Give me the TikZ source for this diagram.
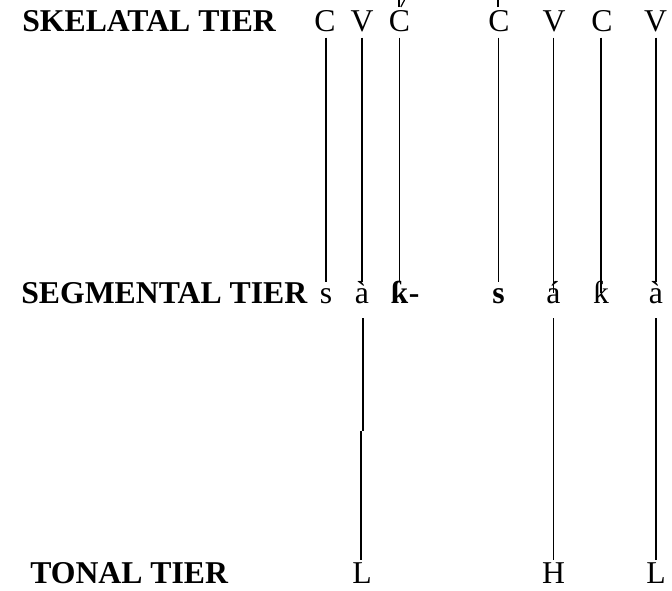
\documentclass[tikz,border=0pt]{standalone}
\usepackage{fontspec}
\setmainfont{Liberation Serif}
\begin{document}
\begin{tikzpicture}[x=0.75pt,y=-0.75pt,
  tier/.style={font=\fontsize{23.8}{28}\selectfont\bfseries, anchor=base west, inner sep=0pt},
  skel/.style={font=\fontsize{23.8}{28}\selectfont, anchor=base, inner sep=0pt,
               text height=18.4pt, text depth=4.1pt},
  seg/.style={font=\fontsize{23.8}{28}\selectfont, anchor=base, inner sep=0pt,
              text height=16.2pt, text depth=10.5pt},
  segbold/.style={seg, font=\fontsize{23.8}{28}\selectfont\bfseries},
  tone/.style={font=\fontsize{23.8}{28}\selectfont, anchor=base, inner sep=0pt,
               text height=18pt, text depth=0pt},
  link/.style={line width=1.4pt}]
\useasboundingbox (0,0) rectangle (672,591);

% tier labels
\node[tier] (lsk) at (22,32) {SKELATAL TIER};
\node[tier] (lsg) at (21,304) {SEGMENTAL TIER};
\node[tier] (lto) at (30,584) {TONAL TIER};

% skeletal tier
\node[skel] (k1) at (325,32) {C};
\node[skel] (k2) at (362,32) {V};
\node[skel] (k3) at (399.5,32) {C};
\node[skel] (k4) at (499,32) {C};
\node[skel] (k5) at (554,32) {V};
\node[skel] (k6) at (602,32) {C};
\node[skel] (k7) at (655.5,32) {V};

% segmental tier
\node[seg] (g1) at (326,304) {s};
\node[seg] (g2) at (362,304) {à};
\node[segbold] (g3) at (399.5,304) {ƙ};
\node[segbold,anchor=base west] (g3h) at (g3.base east) {-};
\node[segbold] (g4) at (498.5,304) {s};
\node[seg] (g5) at (553.5,304) {á};
\node[seg] (g6) at (601,304) {ƙ};
\node[seg] (g7) at (656,304) {à};

% tonal tier
\node[tone] (t1) at (362,584) {L};
\node[tone] (t2) at (553.5,584) {H};
\node[tone] (t3) at (656,584) {L};

% skeleton to segments
\draw[link] (k1.south -| g1) -- (g1.north);
\draw[link] (k2.south) -- (g2.north);
\draw[link] (k3.south) -- (g3.north);
\draw[link] (k4.south -| g4) -- (g4.north);
\draw[link,shorten >=-8.25pt] (k5.south -| g5) -- (g5.north);
\draw[link,shorten >=-8.25pt] (k6.south -| g6) -- (g6.north);
\draw[link] (k7.south -| g7) -- (g7.north);

% segments to tones
\coordinate (j1) at (363,431);
\coordinate (j2) at (361,431);
\draw[link] (g2.south -| j1) -- (j1);
\draw[link] (j2) -- (j2 |- t1.north);
\draw[link] (g5.south) -- (t2.north);
\draw[link] (g7.south) -- (t3.north);

% association lines leaving the top edge
\coordinate (u3) at (399,0);
\coordinate (v3a) at (400.8,7);
\coordinate (v3b) at (404.5,0);
\coordinate (u4) at (498,0);
\draw[link] (k3.north -| u3) -- (u3);
\draw[line width=0.9pt] (v3a) -- (v3b);
\draw[link] (k4.north -| u4) -- (u4);
\end{tikzpicture}
\end{document}
